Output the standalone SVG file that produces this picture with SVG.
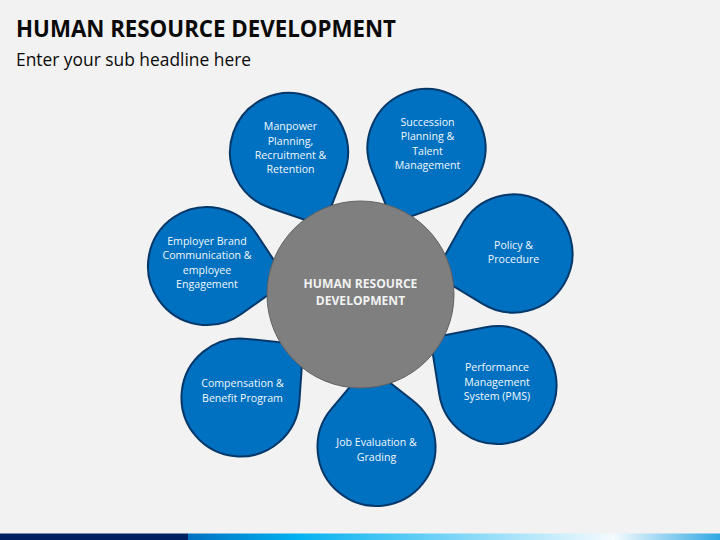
<svg xmlns="http://www.w3.org/2000/svg" width="720" height="540" viewBox="0 0 720 540">
<style>
text{font-family:"Open Sans","Liberation Sans",sans-serif}
.t{font-size:10.6px;fill:#f2f8fc;text-anchor:middle}
.p{fill:#0070c0;stroke:#02386a;stroke-width:2}
.h{font-size:12.1px;font-weight:700;fill:#f2f2f2;text-anchor:middle}
</style>
<defs>
<linearGradient id="g" x1="0" x2="1" y1="0" y2="0">
<stop offset="0" stop-color="#0070c0"/>
<stop offset="0.2" stop-color="#00b0f0"/>
<stop offset="0.8" stop-color="#f5fbfe"/>
<stop offset="1" stop-color="#30a8e4"/>
</linearGradient>
<path id="drop" d="M42.8 -40.6A59 59 0 1 0 42.800 40.600L82 0Z"/>
</defs>
<rect width="720" height="540" fill="#f2f2f2"/>
<text x="16" y="37" font-size="23" font-weight="700" fill="#0a0a0a" textLength="380" lengthAdjust="spacingAndGlyphs">HUMAN RESOURCE DEVELOPMENT</text>
<text x="16" y="66" font-size="18" fill="#0a0a0a" textLength="235" lengthAdjust="spacingAndGlyphs">Enter your sub headline here</text>
<g id="node-manpower"><use href="#drop" class="p" transform="translate(289 152) rotate(65)"/>
<text class="t"><tspan x="290.5" y="130">Manpower</tspan><tspan x="290.5" y="144.5">Planning,</tspan><tspan x="290.5" y="159">Recruitment &amp;</tspan><tspan x="290.5" y="173">Retention</tspan></text></g>
<g id="node-succession"><use href="#drop" class="p" transform="translate(426.5 148) rotate(114)"/>
<text class="t"><tspan x="427.5" y="125.500">Succession</tspan><tspan x="427.5" y="140">Planning &amp;</tspan><tspan x="427.5" y="154.500">Talent</tspan><tspan x="427.5" y="169">Management</tspan></text></g>
<g id="node-policy"><use href="#drop" class="p" transform="translate(513.5 253.500) rotate(165)"/>
<text class="t"><tspan x="513.5" y="248.500">Policy &amp;</tspan><tspan x="513.5" y="263">Procedure</tspan></text></g>
<g id="node-performance"><use href="#drop" class="p" transform="translate(497.5 385) rotate(215)"/>
<text class="t"><tspan x="497" y="371">Performance</tspan><tspan x="497" y="385.500">Management</tspan><tspan x="497" y="400">System (PMS)</tspan></text></g>
<g id="node-job"><use href="#drop" class="p" transform="translate(376.5 447) rotate(264)"/>
<text class="t"><tspan x="376.5" y="446">Job Evaluation &amp;</tspan><tspan x="376.5" y="461">Grading</tspan></text></g>
<g id="node-compensation"><use href="#drop" class="p" transform="translate(240.5 397.500) rotate(-40)"/>
<text class="t"><tspan x="242.5" y="387">Compensation &amp;</tspan><tspan x="242.5" y="401.500">Benefit Program</tspan></text></g>
<g id="node-employer"><use href="#drop" class="p" transform="translate(207 266) rotate(10.500)"/>
<text class="t"><tspan x="207" y="244.500">Employer Brand</tspan><tspan x="207" y="259">Communication &amp;</tspan><tspan x="207" y="273.500">employee</tspan><tspan x="207" y="288">Engagement</tspan></text></g>
<g id="node-center"><circle cx="360.5" cy="294.500" r="93.500" fill="#7f7f7f" stroke="#626262" stroke-width="1"/>
<text class="h"><tspan x="360.5" y="288">HUMAN RESOURCE</tspan><tspan x="360.5" y="305">DEVELOPMENT</tspan></text></g>
<g id="connectors"></g>
<rect x="0" y="533.500" width="188" height="6.500" fill="#002060"/>
<rect x="188" y="533.500" width="532" height="6.500" fill="url(#g)"/>
</svg>
